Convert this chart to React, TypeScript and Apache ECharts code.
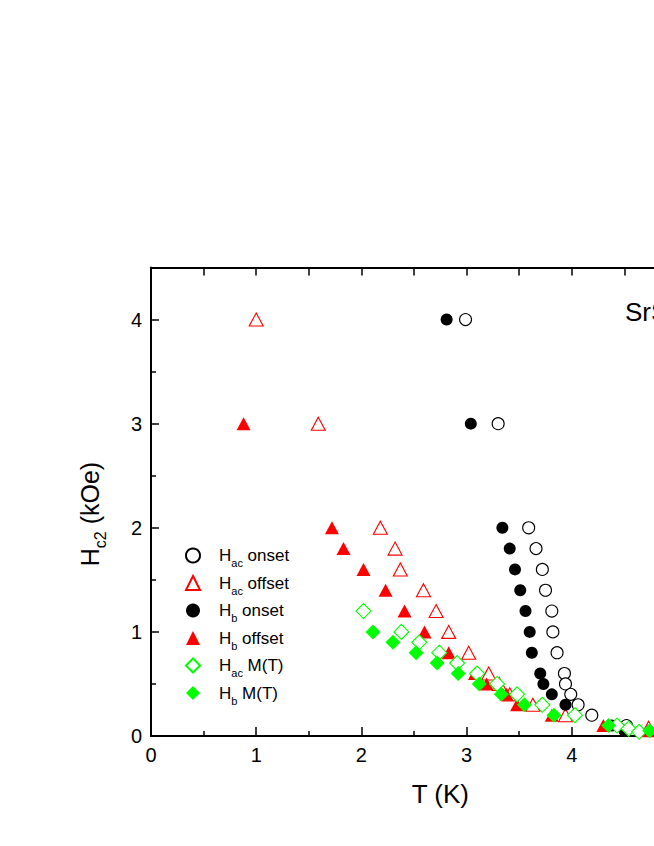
import React, { useEffect, useRef } from 'react';
import * as echarts from 'echarts';

const FONT = 'Arial, "Liberation Sans", Helvetica, sans-serif';

// axis ranges and tick steps
const X_RANGE = [0, 5.5];
const Y_RANGE = [0, 4.5];
const X_STEP = 1;
const Y_STEP = 1;

// series data: [T (K), Hc2 (kOe)]
const hacOnset: [number, number][] = [
  [2.99, 4.0], [3.30, 3.0], [3.59, 2.0], [3.66, 1.8], [3.72, 1.6], [3.75, 1.4],
  [3.81, 1.2], [3.82, 1.0], [3.86, 0.8], [3.93, 0.6], [3.94, 0.5], [3.99, 0.4],
  [4.06, 0.3], [4.19, 0.2], [4.52, 0.1],
];
const hacOffset: [number, number][] = [
  [1.00, 4.0], [1.59, 3.0], [2.18, 2.0], [2.32, 1.8], [2.37, 1.6], [2.59, 1.4],
  [2.71, 1.2], [2.83, 1.0], [3.02, 0.8], [3.21, 0.6], [3.31, 0.5], [3.41, 0.4],
  [3.63, 0.3], [3.94, 0.2], [4.73, 0.08],
];
const hbOnset: [number, number][] = [
  [2.81, 4.0], [3.04, 3.0], [3.34, 2.0], [3.41, 1.8], [3.46, 1.6], [3.51, 1.4],
  [3.56, 1.2], [3.60, 1.0], [3.62, 0.8], [3.70, 0.6], [3.73, 0.5], [3.81, 0.4],
  [3.94, 0.3], [4.38, 0.1], [4.50, 0.05],
];
const hbOffset: [number, number][] = [
  [0.88, 3.0], [1.72, 2.0], [1.83, 1.8], [2.02, 1.6], [2.23, 1.4], [2.41, 1.2],
  [2.60, 1.0], [2.83, 0.8], [3.08, 0.6], [3.19, 0.5], [3.38, 0.4], [3.48, 0.3],
  [3.81, 0.2], [4.30, 0.1], [4.72, 0.05],
];
const hacMT: [number, number][] = [
  [2.02, 1.2], [2.38, 1.0], [2.55, 0.9], [2.74, 0.8], [2.91, 0.7], [3.10, 0.6],
  [3.29, 0.5], [3.48, 0.4], [3.72, 0.3], [4.03, 0.2], [4.43, 0.1], [4.54, 0.07],
  [4.64, 0.04],
];
const hbMT: [number, number][] = [
  [2.11, 1.0], [2.30, 0.9], [2.52, 0.8], [2.72, 0.7], [2.92, 0.6], [3.12, 0.5],
  [3.33, 0.4], [3.55, 0.3], [3.83, 0.2], [4.35, 0.1], [4.74, 0.05],
];

const seriesNames = ['Hac onset', 'Hac offset', 'Hb onset', 'Hb offset', 'Hac M(T)', 'Hb M(T)'];
const sampleLabel = 'SrSn4';
const xTitle = 'T (K)';

export default function App() {
  const ref = useRef<HTMLDivElement>(null);

  useEffect(() => {
    const chart = echarts.init(ref.current as HTMLDivElement, null, { renderer: 'svg' });

    const open = (c: string) => ({ color: '#ffffff', borderColor: c, borderWidth: 1.1, opacity: 1 });
    const solid = (c: string) => ({ color: c, borderWidth: 0, opacity: 1 });
    const mk = (name: string, data: [number, number][], symbol: string, size: any, itemStyle: any) => ({
      type: 'scatter',
      name,
      data,
      symbol,
      symbolSize: size,
      itemStyle,
      emphasis: { disabled: true },
      xAxisIndex: 0,
      yAxisIndex: 0,
    });

    const axisLine = { show: true, onZero: false, lineStyle: { color: '#000', width: 2 } };
    const tickStyle = { color: '#000', width: 1.5 };

    const subRich = (main: number, sub: number, lh: number) => ({
      h: { fontSize: main, lineHeight: lh, fontFamily: FONT, color: '#000' },
      hp: { fontSize: main, lineHeight: lh, fontFamily: FONT, color: '#000', padding: [0, 0, 0, 14] },
      s: { fontSize: sub, fontFamily: FONT, color: '#000', verticalAlign: 'bottom' },
      t: { fontSize: main, lineHeight: lh, fontFamily: FONT, color: '#000' },
    });

    const option: any = {
      animation: false,
      backgroundColor: '#fff',
      grid: { left: 151, top: 267.5, width: 578.6, height: 468.5, containLabel: false },
      legend: {
        orient: 'vertical',
        left: 185,
        top: 547,
        padding: 0,
        itemWidth: 14,
        itemHeight: 14,
        itemGap: 6,
        selectedMode: false,
        data: seriesNames,
        formatter: (name: string) => {
          const m = name.match(/^H(ac|b) (.*)$/);
          if (!m) return name;
          return `{hp|H}{s|${m[1]}}{t| ${m[2]}}`;
        },
        textStyle: { fontFamily: FONT, fontSize: 17, color: '#000', rich: subRich(17, 11, 26) },
      },
      xAxis: [
        {
          type: 'value',
          position: 'bottom',
          min: X_RANGE[0],
          max: X_RANGE[1],
          interval: X_STEP,
          axisLine,
          axisTick: { show: true, inside: true, length: 9, lineStyle: tickStyle },
          minorTick: { show: true, splitNumber: 2, length: 5, lineStyle: tickStyle },
          splitLine: { show: false },
          axisLabel: { show: true, margin: 9, fontSize: 20, fontFamily: FONT, color: '#000', showMaxLabel: false },
          name: xTitle,
          nameLocation: 'middle',
          nameGap: 45,
          nameTextStyle: { fontSize: 26, fontFamily: FONT, color: '#000' },
        },
        {
          type: 'value',
          position: 'top',
          min: X_RANGE[0],
          max: X_RANGE[1],
          interval: X_STEP / 2,
          axisLine,
          axisTick: { show: true, inside: true, length: 8, lineStyle: tickStyle },
          splitLine: { show: false },
          axisLabel: { show: false },
        },
      ],
      yAxis: [
        {
          type: 'value',
          position: 'left',
          min: Y_RANGE[0],
          max: Y_RANGE[1],
          interval: Y_STEP,
          axisLine,
          axisTick: { show: true, inside: true, length: 8, lineStyle: tickStyle },
          minorTick: { show: true, splitNumber: 2, length: 5, lineStyle: tickStyle },
          splitLine: { show: false },
          axisLabel: { show: true, margin: 9, fontSize: 20, fontFamily: FONT, color: '#000', showMaxLabel: false },
        },
        {
          type: 'value',
          position: 'right',
          min: Y_RANGE[0],
          max: Y_RANGE[1],
          interval: Y_STEP,
          axisLine,
          axisTick: { show: true, inside: true, length: 8, lineStyle: tickStyle },
          splitLine: { show: false },
          axisLabel: { show: false },
        },
      ],
      graphic: [
        {
          type: 'text',
          x: 90,
          y: 514,
          rotation: Math.PI / 2,
          style: {
            text: '{h|H}{s|c2}{t| (kOe)}',
            rich: subRich(25, 16, 36),
            align: 'center',
            verticalAlign: 'middle',
          },
        },
        {
          type: 'text',
          x: 625,
          y: 312,
          style: {
            text: sampleLabel,
            fontSize: 26,
            fontFamily: FONT,
            fill: '#000',
            align: 'left',
            verticalAlign: 'middle',
          },
        },
      ],
      series: [
        mk(seriesNames[0], hacOnset, 'circle', 12, open('#000')),
        mk(seriesNames[1], hacOffset, 'triangle', [14, 13], open('#ff0000')),
        mk(seriesNames[2], hbOnset, 'circle', 12, solid('#000')),
        mk(seriesNames[3], hbOffset, 'triangle', [14, 13], solid('#ff0000')),
        mk(seriesNames[4], hacMT, 'diamond', 15, open('#00ff00')),
        mk(seriesNames[5], hbMT, 'diamond', 15, solid('#00ff00')),
      ],
    };

    chart.setOption(option);
    return () => chart.dispose();
  }, []);

  return (
    <div
      style={{ position: 'fixed', left: 0, top: 0, width: 654, height: 846, overflow: 'hidden', background: '#fff' }}
    >
      <div ref={ref} style={{ width: 780, height: 846 }} />
    </div>
  );
}
